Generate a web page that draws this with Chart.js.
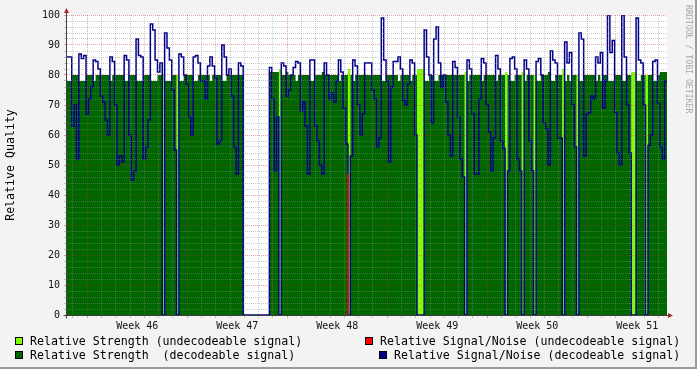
<!DOCTYPE html>
<html>
<head>
<meta charset="utf-8">
<script src="https://cdn.jsdelivr.net/npm/chart.js@4.4.0/dist/chart.umd.min.js"></script>
<style>
  html, body { margin: 0; padding: 0; background: #f3f3f3; }
  #wrap { position: relative; width: 697px; height: 369px; overflow: hidden; }
  #chart { position: absolute; left: 0; top: 0; }
  #frame { position: absolute; left: 0; top: 0; width: 697px; height: 369px; box-sizing: border-box;
           border-right: 2px solid #9b9b9b; border-bottom: 2px solid #9b9b9b; pointer-events: none; }
  .leg { position: absolute; font: 11.6px "DejaVu Sans Mono", monospace; line-height: 14px; white-space: pre; color: #000; }
  .sw { position: absolute; width: 6px; height: 6px; border: 1px solid #000; }
  #mark { position: absolute; left: 684px; top: 5px; writing-mode: vertical-rl; font: 8.2px "DejaVu Sans Mono", monospace;
          line-height: 9px; color: #a8a8a8; white-space: pre; }
</style>
</head>
<body>
<div id="wrap">
  <canvas id="chart" width="697" height="369"></canvas>
  <div id="frame"></div>
  <div class="sw" style="left:15px; top:337px; background:#80ff00;"></div>
  <div class="leg" style="left:30px; top:334px;">Relative Strength (undecodeable signal)</div>
  <div class="sw" style="left:15px; top:351px; background:#006600;"></div>
  <div class="leg" style="left:30px; top:348px;">Relative Strength  (decodeable signal)</div>
  <div class="sw" style="left:365px; top:337px; background:#ff0000;"></div>
  <div class="leg" style="left:380px; top:334px;">Relative Signal/Noise (undecodeable signal)</div>
  <div class="sw" style="left:379px; top:351px; background:#000088;"></div>
  <div class="leg" style="left:394px; top:348px;">Relative Signal/Noise (decodeable signal)</div>
  <div id="mark">RRDTOOL / TOBI OETIKER</div>
</div>
<script>
// time axis: days counted from Monday 00:00 of week 46, one sample every 4 hours
const startDay = -34 / 24;
const stepDays = 4 / 24;
const weekLabels = ['Week 46', 'Week 47', 'Week 48', 'Week 49', 'Week 50', 'Week 51'];

// relative signal/noise of decoded signal (blue)
const snrDecoded = [
  86, 86, 63, 70, 52, 87, 85.5, 86.5, 67, 72,
  76, 85, 84.5, 82, 73, 71, 65, 60, 86, 84.5,
  70, 50, 53, 51, 86.5, 85, 60, 45, 48, 92,
  86.5, 86, 52, 56, 65, 97, 95, 85, 81, 84,
  0, 94, 89, 85, 75, 55, 0, 87, 86, 80,
  77, 66, 60, 86, 86.5, 84, 78, 78, 72, 83,
  86, 83, 79, 57, 58, 90, 86, 80, 82, 73,
  56, 47, 84, 83, 0, 0, 0, 0, 0, 0,
  0, 0, 0, 0, 0, 82.5, 72, 48, 66, 0,
  84, 83, 73, 75, 80, 82.5, 84.5, 84, 68, 71,
  63, 47, 85, 85, 63, 58, 50, 47, 84, 80,
  72, 74, 71, 78, 85, 81, 69, 57, 0, 53,
  85, 83, 70, 60, 67, 84, 84, 84, 75, 72,
  56, 59, 99, 85, 78, 51, 76, 84.5, 84.5, 86,
  82, 71.5, 70, 77, 85, 84, 60, 0, 0, 0,
  95, 86, 80, 64, 92, 96, 84, 76, 80, 71,
  60, 53, 84.5, 82.5, 66, 52, 46, 0, 85, 82,
  67, 47, 47, 72, 85.5, 84, 70, 61, 48, 59,
  86.5, 82, 58, 55.5, 0, 48, 85.5, 86, 82, 52,
  48, 0, 85, 82, 58, 48, 0, 84.5, 85.5, 80,
  64, 62, 50, 88, 85, 84, 59, 59, 0, 91,
  84, 87.5, 70, 56, 0, 94, 92, 53, 67, 67.5,
  73, 72, 86, 84, 87.5, 69, 78, 100, 87.5, 91.5,
  67.5, 54, 50, 100, 86, 70, 54, 0, 0, 99,
  85, 84, 70, 0, 56.5, 60, 84.5, 85, 70.5, 56,
  52, 78
];

// relative strength of decoded signal (dark green)
const strengthDecoded = [
  78, 78, 80, 80, 80, 78, 78, 78, 80, 80,
  80, 78, 80, 80, 80, 80, 80, 80, 78, 80,
  80, 80, 80, 80, 78, 78, 80, 80, 80, 78,
  78, 78, 80, 80, 80, 78, 78, 78, 80, 80,
  0, 78, 78, 78, 80, 80, 0, 78, 78, 80,
  80, 80, 80, 78, 78, 80, 80, 80, 80, 80,
  78, 80, 80, 80, 80, 78, 78, 80, 80, 80,
  80, 80, 80, 80, 0, 0, 0, 0, 0, 0,
  0, 0, 0, 0, 0, 81, 81, 81, 81, 0,
  80, 80, 81, 80, 80, 80, 78, 80, 80, 80,
  80, 80, 78, 78, 80, 80, 80, 81, 80, 80,
  80, 80, 80, 80, 78, 80, 80, 80, 0, 80,
  78, 80, 80, 80, 80, 80, 80, 80, 80, 80,
  80, 80, 78, 78, 80, 80, 80, 80, 80, 78,
  80, 80, 80, 80, 78, 80, 80, 0, 0, 0,
  78, 78, 80, 80, 78, 78, 80, 80, 80, 80,
  80, 80, 80, 80, 80, 80, 80, 0, 78, 80,
  80, 80, 80, 80, 78, 80, 80, 80, 80, 80,
  78, 80, 80, 80, 0, 80, 78, 78, 80, 80,
  80, 0, 78, 80, 80, 80, 0, 78, 78, 80,
  80, 80, 81, 78, 78, 80, 80, 80, 0, 78,
  80, 78, 80, 80, 0, 78, 78, 80, 80, 80,
  80, 80, 78, 80, 78, 80, 80, 78, 78, 78,
  80, 80, 80, 78, 78, 80, 80, 0, 0, 78,
  78, 80, 80, 0, 80, 80, 78, 78, 80, 81,
  81, 81
];

// relative strength of undecodeable signal (light green)
const strengthUndecoded = [
  0, 0, 0, 0, 0, 0, 0, 0, 0, 0,
  0, 0, 0, 0, 0, 0, 0, 0, 0, 0,
  0, 0, 0, 0, 0, 0, 0, 0, 0, 0,
  0, 0, 0, 0, 0, 0, 0, 0, 0, 0,
  80, 0, 0, 0, 0, 0, 80, 0, 0, 0,
  0, 0, 0, 0, 0, 0, 0, 0, 0, 0,
  0, 0, 0, 0, 0, 0, 0, 0, 0, 0,
  0, 0, 0, 0, 0, 0, 0, 0, 0, 0,
  0, 0, 0, 0, 0, 0, 0, 0, 0, 82,
  0, 0, 0, 0, 0, 0, 0, 0, 0, 0,
  0, 0, 0, 0, 0, 0, 0, 0, 0, 0,
  0, 0, 0, 0, 0, 0, 0, 0, 82, 0,
  0, 0, 0, 0, 0, 0, 0, 0, 0, 0,
  0, 0, 0, 0, 0, 0, 0, 0, 0, 0,
  0, 0, 0, 0, 0, 0, 0, 82, 82, 82,
  0, 0, 0, 0, 0, 0, 0, 0, 0, 0,
  0, 0, 0, 0, 0, 0, 0, 81, 0, 0,
  0, 0, 0, 0, 0, 0, 0, 0, 0, 0,
  0, 0, 0, 0, 81, 0, 0, 0, 0, 0,
  0, 81, 0, 0, 0, 0, 80, 0, 0, 0,
  0, 0, 0, 0, 0, 0, 0, 0, 82, 0,
  0, 0, 0, 0, 80, 0, 0, 0, 0, 0,
  0, 0, 0, 0, 0, 0, 0, 0, 0, 0,
  0, 0, 0, 0, 0, 0, 0, 81, 81, 0,
  0, 0, 0, 80, 0, 0, 0, 0, 0, 0,
  0, 0
];

// relative signal/noise of undecodeable signal (red), only one sample has it
const snrUndecodedSample = [118, 118];
const snrUndecodedValue = [0, 47];

const endDay = startDay + snrDecoded.length * stepDays;
const majorGrid = 'rgba(190, 40, 40, 0.42)';
const minorGrid = 'rgba(140, 140, 140, 0.45)';
const monoFont = "'DejaVu Sans Mono', monospace";

function toPoints(values) {
    const pts = values.map((v, i) => ({ x: startDay + i * stepDays, y: v }));
    // hold the last step until the right edge
    pts.push({ x: endDay, y: values[values.length - 1] });
    return pts;
}

const rrdFrame = {
    id: 'rrdFrame',
    beforeDraw(chart) {
        const { ctx, chartArea: a } = chart;
        ctx.save();
        ctx.fillStyle = '#ffffff';
        ctx.fillRect(a.left, a.top, a.right - a.left, a.bottom - a.top);
        ctx.restore();
    },
    afterDraw(chart) {
        const { ctx, chartArea: a } = chart;
        const ax = a.left - 0.5;
        const ay = a.bottom + 0.5;
        ctx.save();
        ctx.strokeStyle = '#404040';
        ctx.lineWidth = 1;
        ctx.beginPath();
        ctx.moveTo(ax, ay + 3);
        ctx.lineTo(ax, a.top - 2);
        ctx.moveTo(ax - 3, ay);
        ctx.lineTo(a.right + 2, ay);
        ctx.stroke();
        // arrow heads
        ctx.fillStyle = '#a02828';
        ctx.beginPath();
        ctx.moveTo(ax, a.top - 7);
        ctx.lineTo(ax - 2.5, a.top - 2);
        ctx.lineTo(ax + 2.5, a.top - 2);
        ctx.closePath();
        ctx.fill();
        ctx.beginPath();
        ctx.moveTo(a.right + 6, ay);
        ctx.lineTo(a.right + 1, ay - 2.5);
        ctx.lineTo(a.right + 1, ay + 2.5);
        ctx.closePath();
        ctx.fill();
        ctx.restore();
    }
};

const areaStyle = {
    type: 'line', stepped: true, fill: 'origin', borderWidth: 0,
    borderColor: 'transparent', pointRadius: 0
};

new Chart(document.getElementById('chart'), {
    type: 'line',
    data: {
        datasets: [
            Object.assign({}, areaStyle, {
                label: 'Relative Strength (undecodeable signal)',
                data: toPoints(strengthUndecoded),
                backgroundColor: '#80ff00',
                order: 4
            }),
            Object.assign({}, areaStyle, {
                label: 'Relative Strength  (decodeable signal)',
                data: toPoints(strengthDecoded),
                backgroundColor: '#006600',
                order: 3
            }),
            {
                label: 'Relative Signal/Noise (decodeable signal)',
                data: toPoints(snrDecoded),
                stepped: true, fill: false, pointRadius: 0,
                borderColor: '#00008a', borderWidth: 1.5,
                order: 2
            },
            {
                label: 'Relative Signal/Noise (undecodeable signal)',
                data: snrUndecodedSample.map((s, k) => ({ x: startDay + s * stepDays, y: snrUndecodedValue[k] })),
                stepped: true, fill: false, pointRadius: 0,
                borderColor: '#ff0000', borderWidth: 1.5,
                order: 1
            }
        ]
    },
    options: {
        responsive: false,
        animation: false,
        devicePixelRatio: 1,
        events: [],
        layout: { padding: { top: 15, right: 30, bottom: 34, left: 0 } },
        plugins: { legend: { display: false }, tooltip: { enabled: false } },
        scales: {
            x: {
                type: 'linear',
                min: startDay,
                max: endDay,
                afterBuildTicks(scale) {
                    const ticks = [];
                    for (let d = Math.ceil(startDay); d <= endDay; d++) ticks.push({ value: d });
                    weekLabels.forEach((w, k) => ticks.push({ value: k * 7 + 3.5 }));
                    ticks.sort((a, b) => a.value - b.value);
                    scale.ticks = ticks;
                },
                afterFit(scale) { scale.height = 20; },
                ticks: {
                    autoSkip: false,
                    maxRotation: 0,
                    padding: 2,
                    color: '#111',
                    font: { family: monoFont, size: 10 },
                    callback: (v) => Number.isInteger(v) ? '' : weekLabels[Math.round((v - 3.5) / 7)]
                },
                grid: {
                    z: 1,
                    tickLength: 3,
                    tickBorderDash: [],
                    color: (c) => (!c.tick || !Number.isInteger(c.tick.value)) ? 'transparent'
                        : (c.tick.value % 7 === 0 ? majorGrid : minorGrid)
                },
                border: { display: false, dash: [1, 1] }
            },
            y: {
                min: 0,
                max: 100,
                afterFit(scale) { scale.width = 67; },
                ticks: {
                    stepSize: 2,
                    autoSkip: false,
                    padding: 4,
                    color: '#111',
                    font: { family: monoFont, size: 10 },
                    callback: (v) => v % 10 === 0 ? String(v) : ''
                },
                grid: {
                    z: 1,
                    tickLength: 3,
                    tickBorderDash: [],
                    color: (c) => (c.tick && c.tick.value % 10 === 0) ? majorGrid : minorGrid
                },
                border: { display: false, dash: [1, 1] },
                title: {
                    display: true,
                    text: 'Relative Quality',
                    color: '#000',
                    font: { family: monoFont, size: 11.6 },
                    padding: { top: 4.5, bottom: 0 }
                }
            }
        }
    },
    plugins: [rrdFrame]
});
</script>
</body>
</html>
